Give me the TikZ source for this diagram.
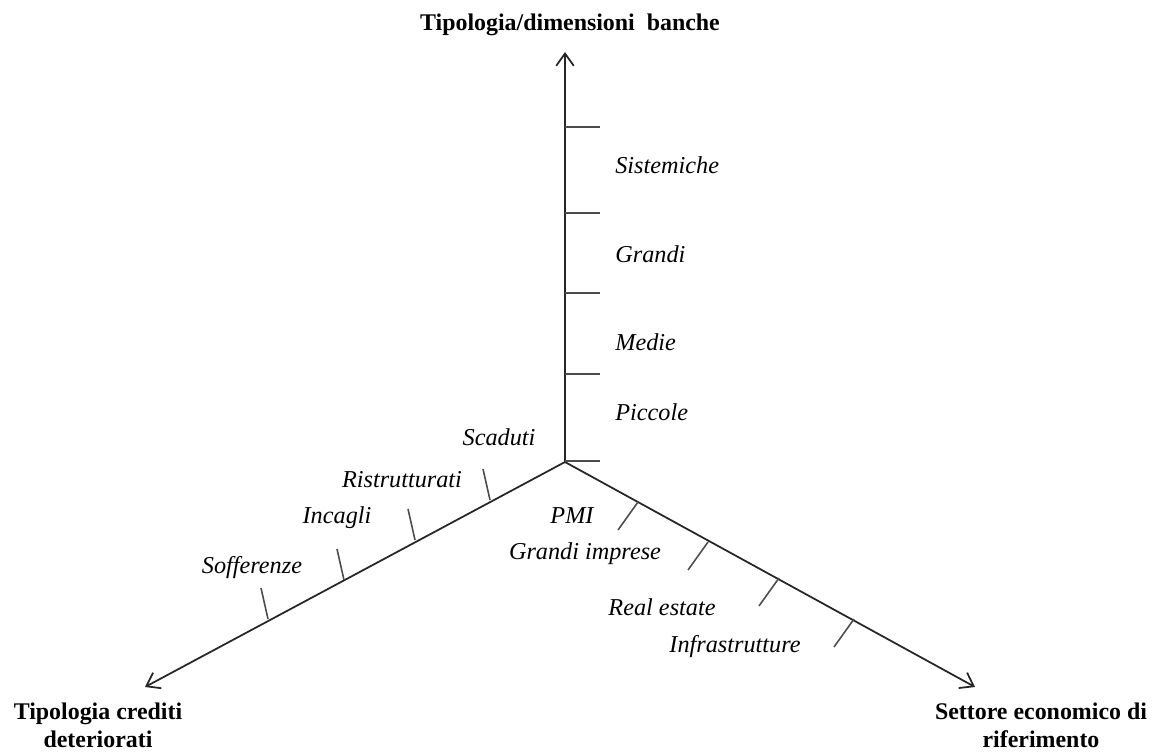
\documentclass[tikz,border=0pt]{standalone}
\usepackage{fontspec}
\setmainfont{Liberation Serif}
\usetikzlibrary{arrows.meta}
\begin{document}
\begin{tikzpicture}[x=0.02cm,y=-0.02cm,
  axis/.style={draw=black!85,line width=1pt,-{Straight Barb[length=7pt,width=10pt,line width=1pt]}},
  tickmark/.style={draw=black!70,line width=0.9pt},
  lab/.style={font=\fontsize{13.8}{16}\selectfont\itshape,inner sep=0pt},
  head/.style={font=\fontsize{13.6}{16}\selectfont\bfseries,inner sep=0pt,align=center}]
\useasboundingbox (0,0) rectangle (1156,753);

% axis origin and ends
\coordinate (O) at (565,462);
\coordinate (up) at (565,52);
\coordinate (dl) at (145,687);
\coordinate (dr) at (975,687);

\draw[axis] (O) -- (up);
\draw[axis] (O) -- (dl);
\draw[axis] (O) -- (dr);

% vertical axis ticks
\foreach \n/\y in {v1/127,v2/213,v3/293,v4/374,v5/461}{
  \coordinate (\n a) at (565,\y);
  \coordinate (\n b) at (600,\y);
  \draw[tickmark] (\n a) -- (\n b);
}

% left axis ticks
\foreach \n/\x/\y in {l1/490/500,l2/415/540,l3/344/580,l4/268/619}{
  \coordinate (\n a) at (\x,\y);
  \coordinate (\n b) at ({\x-7},{\y-31});
  \draw[tickmark] (\n a) -- (\n b);
}

% right axis ticks
\foreach \n/\x/\y in {r1/638/502,r2/708/542,r3/779/578,r4/854/619}{
  \coordinate (\n a) at (\x,\y);
  \coordinate (\n b) at ({\x-20},{\y+28});
  \draw[tickmark] (\n a) -- (\n b);
}

% axis titles
\node[head] (tTop) at (570,25) {Tipologia/dimensioni\ \ banche};
\node[head] (tLeft) at (98,725) {Tipologia crediti\\deteriorati};
\node[head] (tRight) at (1041,725) {Settore economico di\\riferimento};

% bank size categories
\node[lab,anchor=west] (sist) at (615,165) {Sistemiche};
\node[lab,anchor=west] (gra) at (615,254) {Grandi};
\node[lab,anchor=west] (med) at (615,342) {Medie};
\node[lab,anchor=west] (pic) at (615,412) {Piccole};

% non-performing loan types
\node[lab] (scad) at (499,437) {Scaduti};
\node[lab] (ristr) at (402,480) {Ristrutturati};
\node[lab] (inc) at (337,518) {Incagli};
\node[lab] (soff) at (252,568) {Sofferenze};

% economic sectors
\node[lab] (pmi) at (572,516) {PMI};
\node[lab] (gimp) at (585,554) {Grandi imprese};
\node[lab] (real) at (662,607) {Real estate};
\node[lab] (infr) at (735,647) {Infrastrutture};
\end{tikzpicture}
\end{document}
